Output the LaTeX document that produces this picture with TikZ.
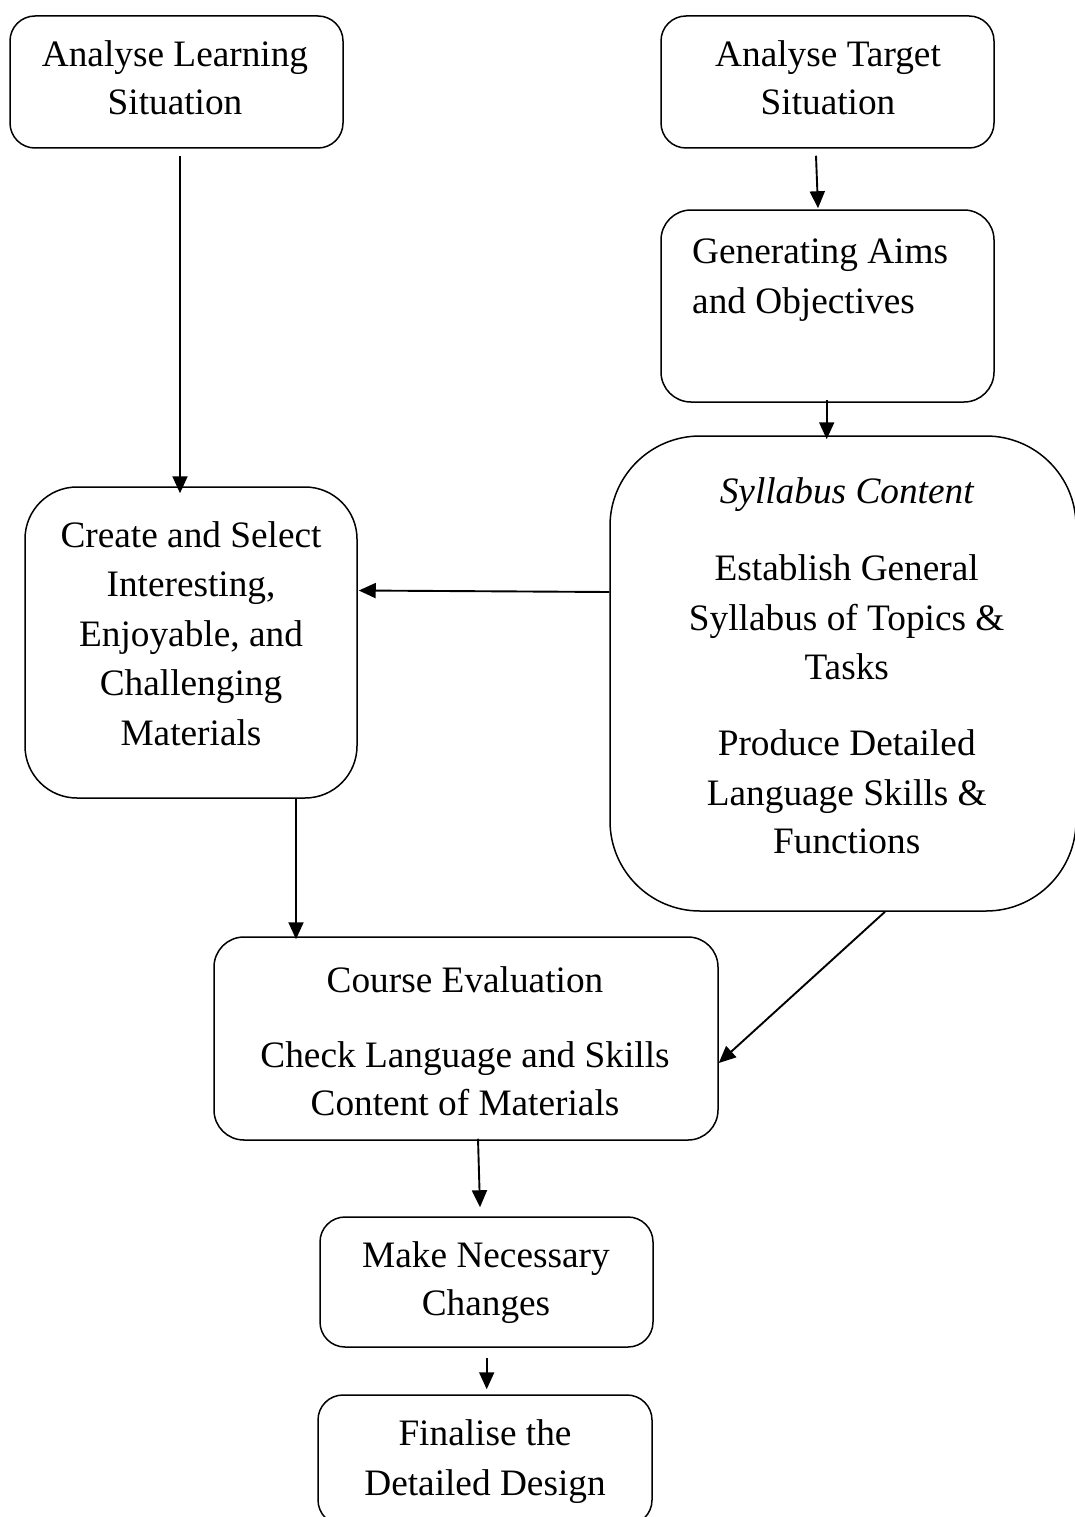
\documentclass[tikz,border=0pt]{standalone}
\usepackage{fontspec}
\setmainfont{Liberation Serif}
\usetikzlibrary{arrows.meta}
\begin{document}
\begin{tikzpicture}[x=1pt,y=-1pt,
  box/.style={draw, line width=1.5pt, rounded corners=#1, inner sep=0pt},
  box/.default=25pt,
  ln/.style={anchor=base, inner sep=0pt, font=\fontsize{37.3}{48}\selectfont},
  arr/.style={line width=1.9pt, -{Triangle[length=17pt,width=15pt]}}]
\useasboundingbox (0,0) rectangle (1075,1517);

% boxes
\node[box, minimum width=333pt, minimum height=132pt] (learn) at (176.5,82) {};
\node[box, minimum width=333pt, minimum height=132pt] (target) at (827.5,82) {};
\node[box=30pt, minimum width=333pt, minimum height=192pt] (aims) at (827.5,306) {};
\node[box=90pt, minimum width=466pt, minimum height=475pt] (syll) at (843,673.5) {};
\node[box=52pt, minimum width=332pt, minimum height=311pt] (create) at (191,642.5) {};
\node[box=30pt, minimum width=504pt, minimum height=203pt] (eval) at (466,1038.5) {};
\node[box, minimum width=333pt, minimum height=130pt] (change) at (486.5,1282) {};
\node[box, minimum width=334pt, minimum height=130pt] (final) at (485,1460) {};

% texts
\node[ln] (t1a) at (175,66.7) {Analyse Learning};
\node[ln] (t1b) at (175,115) {Situation};
\node[ln] (t2a) at (828,66.7) {Analyse Target};
\node[ln] (t2b) at (828,115) {Situation};
\node[ln, anchor=base west] (t3a) at (692,263) {Generating Aims};
\node[ln, anchor=base west] (t3b) at (692,313) {and Objectives};
\node[ln, font=\fontsize{37.3}{48}\selectfont\itshape] (t4a) at (846.7,503) {Syllabus Content};
\node[ln] (t4b) at (846.7,580) {Establish General};
\node[ln] (t4c) at (846.7,630) {Syllabus of Topics \&};
\node[ln] (t4d) at (846.7,679) {Tasks};
\node[ln] (t4e) at (846.7,755) {Produce Detailed};
\node[ln] (t4f) at (846.7,805) {Language Skills \&};
\node[ln] (t4g) at (846.7,853) {Functions};
\node[ln] (t5a) at (191,547) {Create and Select};
\node[ln] (t5b) at (191,596.5) {Interesting,};
\node[ln] (t5c) at (191,646) {Enjoyable, and};
\node[ln] (t5d) at (191,695.5) {Challenging};
\node[ln] (t5e) at (191,745) {Materials};
\node[ln] (t6a) at (465,992) {Course Evaluation};
\node[ln] (t6b) at (465,1067) {Check Language and Skills};
\node[ln] (t6c) at (465,1115) {Content of Materials};
\node[ln] (t7a) at (486,1267) {Make Necessary};
\node[ln] (t7b) at (486,1315) {Changes};
\node[ln] (t8a) at (485,1445) {Finalise the};
\node[ln] (t8b) at (485,1495) {Detailed Design};

% connectors
\draw[arr] ([xshift=3.5pt,yshift=-7pt]learn.south) -- ([xshift=-11pt,yshift=-7pt]create.north);
\draw[arr] ([xshift=-11.5pt,yshift=-7pt]target.south) -- ([xshift=-9.5pt,yshift=1pt]aims.north);
\draw[arr] ([xshift=-0.8pt,yshift=3pt]aims.south) -- ([xshift=-16.3pt,yshift=-4pt]syll.north);
\draw[arr] ([yshift=81.5pt]syll.west) -- ([xshift=1pt,yshift=52pt]create.east);
\draw[arr] ([xshift=105pt]create.south) -- ([xshift=-170pt,yshift=-3pt]eval.north);
\draw[arr] ([xshift=42pt]syll.south) -- ([yshift=-24.5pt]eval.east);
\draw[arr] ([xshift=12pt,yshift=2pt]eval.south) -- ([xshift=-6.5pt,yshift=9pt]change.north);
\draw[arr] ([xshift=0.2pt,yshift=-10pt]change.south) -- ([xshift=1.7pt,yshift=5pt]final.north);
\end{tikzpicture}
\end{document}
